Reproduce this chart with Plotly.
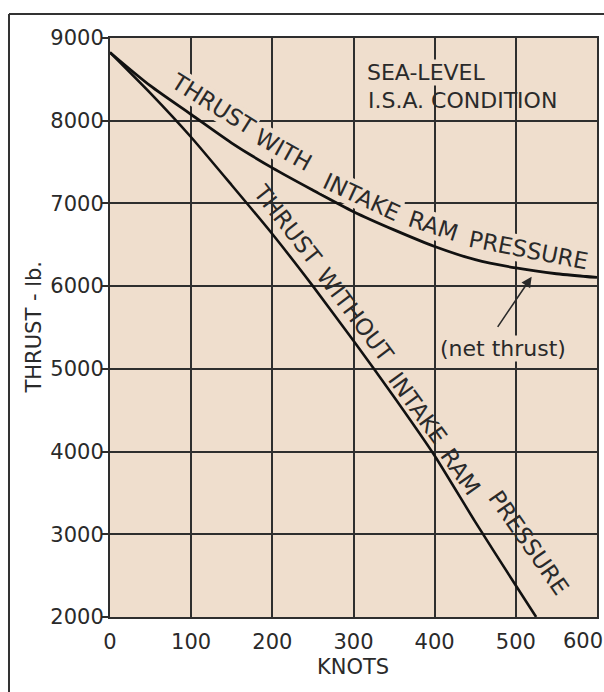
import plotly.graph_objects as go

# ---- data ----
knots_with = [0, 50, 100, 150, 200, 250, 300, 350, 400, 450, 500, 550, 600]
thrust_with = [8825, 8420, 8075, 7730, 7430, 7160, 6900, 6680, 6480, 6320, 6220, 6150, 6105]

knots_without = [0, 50, 100, 150, 200, 250, 300, 350, 400, 450, 500, 525]
thrust_without = [8825, 8330, 7800, 7220, 6630, 6000, 5340, 4660, 3950, 3150, 2380, 2000]

x_ticks = [0, 100, 200, 300, 400, 500, 600]
y_ticks = [2000, 3000, 4000, 5000, 6000, 7000, 8000, 9000]

FONT = "DejaVu Sans"
INK = "#2a2a2a"
BG = "#efdecd"
GRID = "#2e2e2e"

fig = go.Figure()
fig.add_trace(go.Scatter(x=knots_with, y=thrust_with, mode="lines",
                         line=dict(color="#111111", width=2.8, shape="spline", smoothing=0.8),
                         hoverinfo="skip", showlegend=False))
fig.add_trace(go.Scatter(x=knots_without, y=thrust_without, mode="lines",
                         line=dict(color="#111111", width=2.6, shape="spline", smoothing=0.5),
                         hoverinfo="skip", showlegend=False))

ann = []
def label(text, x, y, ang, size=23, bg=True):
    ann.append(dict(text=text, x=x, y=y, xref="x", yref="y", showarrow=False,
                    textangle=ang, font=dict(family=FONT, size=size, color=INK),
                    bgcolor=BG if bg else None, borderpad=0))

# upper curve label (follows the curve word by word)
label("THRUST", 127, 8202, 32)
label("WITH", 214, 7646, 29)
label("INTAKE", 310, 7081, 25)
label("RAM", 399, 6727, 18)
label("PRESSURE", 515, 6440, 11)

# lower line label
label("THRUST", 219, 6739, 52, bg=False)
label("WITHOUT", 302, 5651, 53, bg=False)
label("INTAKE", 379, 4527, 54, bg=False)
label("RAM", 432, 3753, 55, bg=False)
label("PRESSURE", 516, 2894, 55, bg=False)

# condition text
ann.append(dict(text="SEA-LEVEL", x=316, y=8580, xref="x", yref="y", showarrow=False,
                xanchor="left", yanchor="middle", font=dict(family=FONT, size=22, color=INK),
                bgcolor=BG, borderpad=0))
ann.append(dict(text="I.S.A. CONDITION", x=316, y=8250, xref="x", yref="y", showarrow=False,
                xanchor="left", yanchor="middle", font=dict(family=FONT, size=22, color=INK)))

# net thrust arrow + text
ann.append(dict(text="", x=519.5, y=6114, ax=476.4, ay=5490, xref="x", yref="y",
                axref="x", ayref="y", showarrow=True, arrowhead=2, arrowsize=1.3,
                arrowwidth=1.6, arrowcolor=INK))
ann.append(dict(text="(net thrust)", x=484.5, y=5248, xref="x", yref="y", showarrow=False,
                font=dict(family=FONT, size=22, color=INK), bgcolor=BG, borderpad=0))

# last x tick label sits slightly left of its tick in the reference
ann.append(dict(text=str(x_ticks[-1]), x=(583 - 110) / 487, y=(617 - 641) / 579,
                xref="paper", yref="paper", xanchor="center", yanchor="middle",
                showarrow=False, font=dict(family=FONT, size=21, color=INK)))

# axis titles
ann.append(dict(text="THRUST - lb.", x=(33 - 110) / 487, y=0.5, xref="paper", yref="paper",
                xanchor="center", yanchor="middle",
                showarrow=False, textangle=-90, font=dict(family=FONT, size=21, color=INK)))
ann.append(dict(text="KNOTS", x=(353 - 110) / 487, y=(617 - 667) / 579, xref="paper", yref="paper",
                xanchor="center", yanchor="middle",
                showarrow=False, font=dict(family=FONT, size=21, color=INK)))

shapes = [
    dict(type="line", xref="paper", yref="paper", x0=-0.2074, x1=1.03, y0=1.0415, y1=1.0415,
         line=dict(color="#333333", width=2)),
    dict(type="line", xref="paper", yref="paper", x0=-0.2074, x1=-0.2074, y0=1.0415, y1=-0.14,
         line=dict(color="#333333", width=2)),
]

fig.update_layout(
    width=604, height=692,
    margin=dict(l=110, r=7, t=38, b=75),
    paper_bgcolor="white", plot_bgcolor=BG,
    annotations=ann, shapes=shapes,
    font=dict(family=FONT, size=21, color=INK),
)
fig.update_xaxes(range=[0, 600], tickvals=x_ticks,
                 ticktext=[str(v) for v in x_ticks[:-1]] + [""],
                 showgrid=True, gridcolor=GRID, gridwidth=1.6,
                 showline=True, linecolor=GRID, linewidth=2, mirror=True,
                 ticks="", zeroline=False, automargin=False,
                 ticklabeloverflow="allow", ticklabelstandoff=5,
                 tickfont=dict(family=FONT, size=21, color=INK))
fig.update_yaxes(range=[2000, 9000], tickvals=y_ticks, ticktext=[str(v) for v in y_ticks],
                 showgrid=True, gridcolor=GRID, gridwidth=1.6,
                 showline=True, linecolor=GRID, linewidth=2, mirror=True,
                 ticks="outside", ticklen=6, tickcolor=GRID, tickwidth=1.6,
                 zeroline=False, automargin=False, ticklabelstandoff=-6,
                 ticklabeloverflow="allow",
                 tickfont=dict(family=FONT, size=21, color=INK))

fig.write_html("out.html", config={"displayModeBar": False},
               post_script="document.body.style.margin='0';document.body.style.overflow='hidden';")
